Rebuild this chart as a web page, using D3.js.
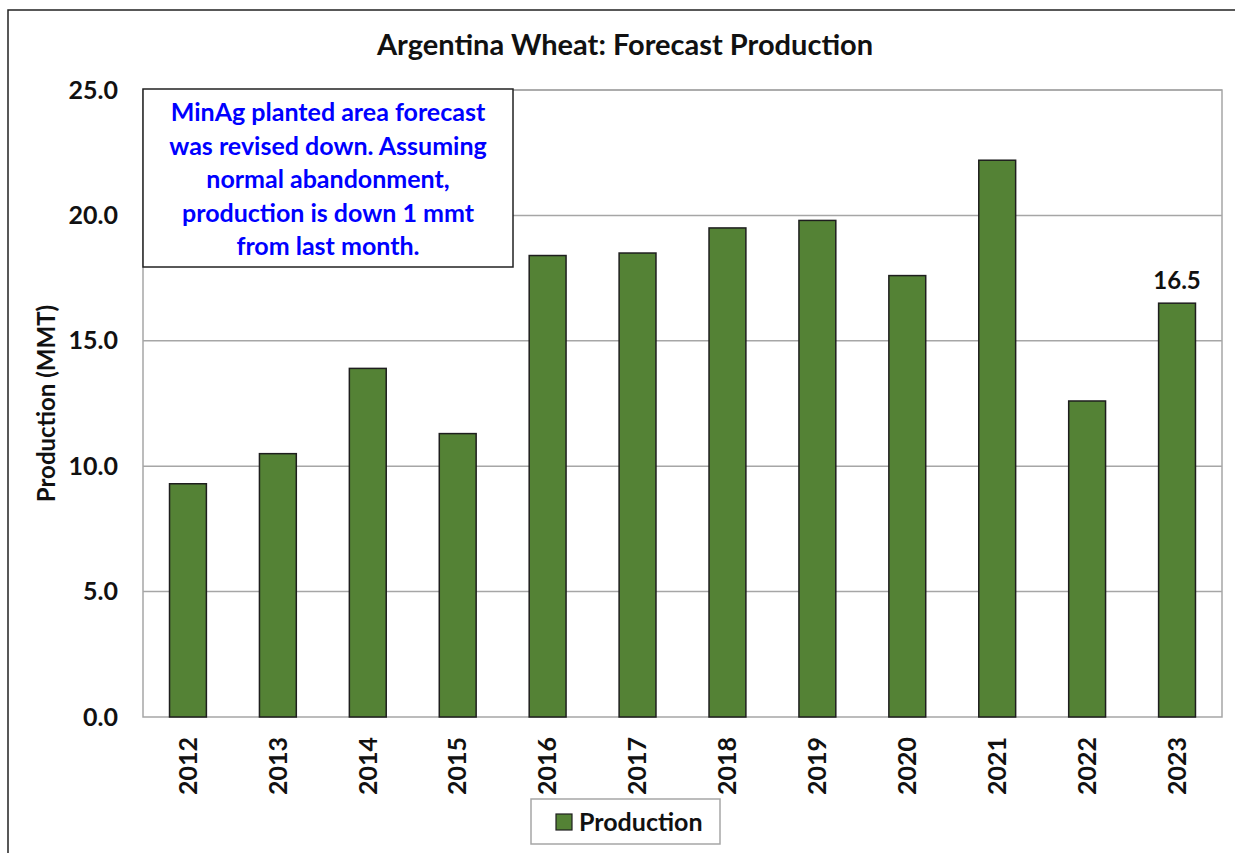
<!DOCTYPE html>
<html>
<head>
<meta charset="utf-8">
<script src="https://cdn.jsdelivr.net/npm/d3@7"></script>
<style>
  body { margin: 0; background: #fff; }
  text { font-family: Lato, "Open Sans", sans-serif; font-weight: bold; }
</style>
</head>
<body>
<svg id="chart" width="1235" height="853"></svg>
<script>
// values
var years = ["2012", "2013", "2014", "2015", "2016", "2017", "2018", "2019", "2020", "2021", "2022", "2023"];
var production = [9.3, 10.5, 13.9, 11.3, 18.4, 18.5, 19.5, 19.8, 17.6, 22.2, 12.6, 16.5];
var yTicks = [0, 5, 10, 15, 20, 25];
var noteLines = [
  "MinAg planted area forecast",
  "was revised down. Assuming",
  "normal abandonment,",
  "production is down 1 mmt",
  "from last month."
];

var svg = d3.select("#chart");
var margin = { left: 143, top: 90, right: 1222, bottom: 717 };

// outer chart border
svg.append("rect")
    .attr("x", 8).attr("y", 10)
    .attr("width", 1240).attr("height", 860)
    .attr("fill", "none").attr("stroke", "#222").attr("stroke-width", 1.5);

var x = d3.scaleBand()
    .domain(years)
    .range([margin.left, margin.right])
    .paddingInner(0.59)
    .paddingOuter(0.295);

var y = d3.scaleLinear()
    .domain([0, 25])
    .range([margin.bottom, margin.top]);

// gridlines
svg.append("g")
    .selectAll("line")
    .data(yTicks.slice(1))
    .enter().append("line")
    .attr("x1", margin.left).attr("x2", margin.right)
    .attr("y1", function(d) { return y(d); })
    .attr("y2", function(d) { return y(d); })
    .attr("stroke", "#a6a6a6").attr("stroke-width", 1.5);

// plot area border
svg.append("rect")
    .attr("x", margin.left).attr("y", margin.top)
    .attr("width", margin.right - margin.left)
    .attr("height", margin.bottom - margin.top)
    .attr("fill", "none").attr("stroke", "#a6a6a6").attr("stroke-width", 1.5);

// bars
svg.append("g")
    .selectAll("rect")
    .data(production)
    .enter().append("rect")
    .attr("x", function(d, i) { return x(years[i]); })
    .attr("y", function(d) { return y(d); })
    .attr("width", x.bandwidth())
    .attr("height", function(d) { return y(0) - y(d); })
    .attr("fill", "#548235")
    .attr("stroke", "#1e1e1e").attr("stroke-width", 1.5);

// y axis
var yAxis = svg.append("g")
    .attr("transform", "translate(" + margin.left + ",0)")
    .call(d3.axisLeft(y).tickValues(yTicks).tickFormat(d3.format(".1f")).tickSize(0).tickPadding(25));
yAxis.select(".domain").remove();
yAxis.selectAll("text")
    .attr("font-size", 25).attr("fill", "#111")
    .style("font-family", "Lato, sans-serif").style("font-weight", "bold");

// x axis
var xAxis = svg.append("g")
    .attr("transform", "translate(0," + margin.bottom + ")")
    .call(d3.axisBottom(x).tickSize(0));
xAxis.select(".domain").remove();
xAxis.selectAll("text")
    .attr("font-size", 25).attr("fill", "#111")
    .style("font-family", "Lato, sans-serif").style("font-weight", "bold")
    .attr("transform", "rotate(-90)")
    .attr("text-anchor", "end")
    .attr("x", -20).attr("y", 0).attr("dy", "0.35em");

// axis title
svg.append("text")
    .attr("transform", "translate(55," + ((margin.top + margin.bottom) / 2) + ") rotate(-90)")
    .attr("text-anchor", "middle")
    .attr("font-size", 24).attr("fill", "#111")
    .text("Production (MMT)");

// chart title
svg.append("text")
    .attr("x", 625).attr("y", 55)
    .attr("text-anchor", "middle")
    .attr("font-size", 29).attr("fill", "#111")
    .text("Argentina Wheat: Forecast Production");

// data label on last bar
var last = years.length - 1;
svg.append("text")
    .attr("x", x(years[last]) + x.bandwidth() / 2)
    .attr("y", y(production[last]) - 14)
    .attr("text-anchor", "middle")
    .attr("font-size", 24).attr("fill", "#111")
    .text(production[last].toFixed(1));

// annotation box
svg.append("rect")
    .attr("x", 143).attr("y", 89)
    .attr("width", 370).attr("height", 178)
    .attr("fill", "#fff").attr("stroke", "#222").attr("stroke-width", 1.5);
svg.append("g")
    .selectAll("text")
    .data(noteLines)
    .enter().append("text")
    .attr("x", 328)
    .attr("y", function(d, i) { return 121 + i * 33.5; })
    .attr("text-anchor", "middle")
    .attr("font-size", 25).attr("fill", "#0000ff")
    .text(function(d) { return d; });

// legend
var legend = svg.append("g").attr("transform", "translate(531,799)");
legend.append("rect")
    .attr("width", 189).attr("height", 45)
    .attr("fill", "#fff").attr("stroke", "#a6a6a6").attr("stroke-width", 1.5);
legend.append("rect")
    .attr("x", 25).attr("y", 15).attr("width", 16).attr("height", 16)
    .attr("fill", "#548235").attr("stroke", "#1e1e1e").attr("stroke-width", 1.2);
legend.append("text")
    .attr("x", 48).attr("y", 32)
    .attr("font-size", 25).attr("fill", "#111")
    .text("Production");
</script>
</body>
</html>
